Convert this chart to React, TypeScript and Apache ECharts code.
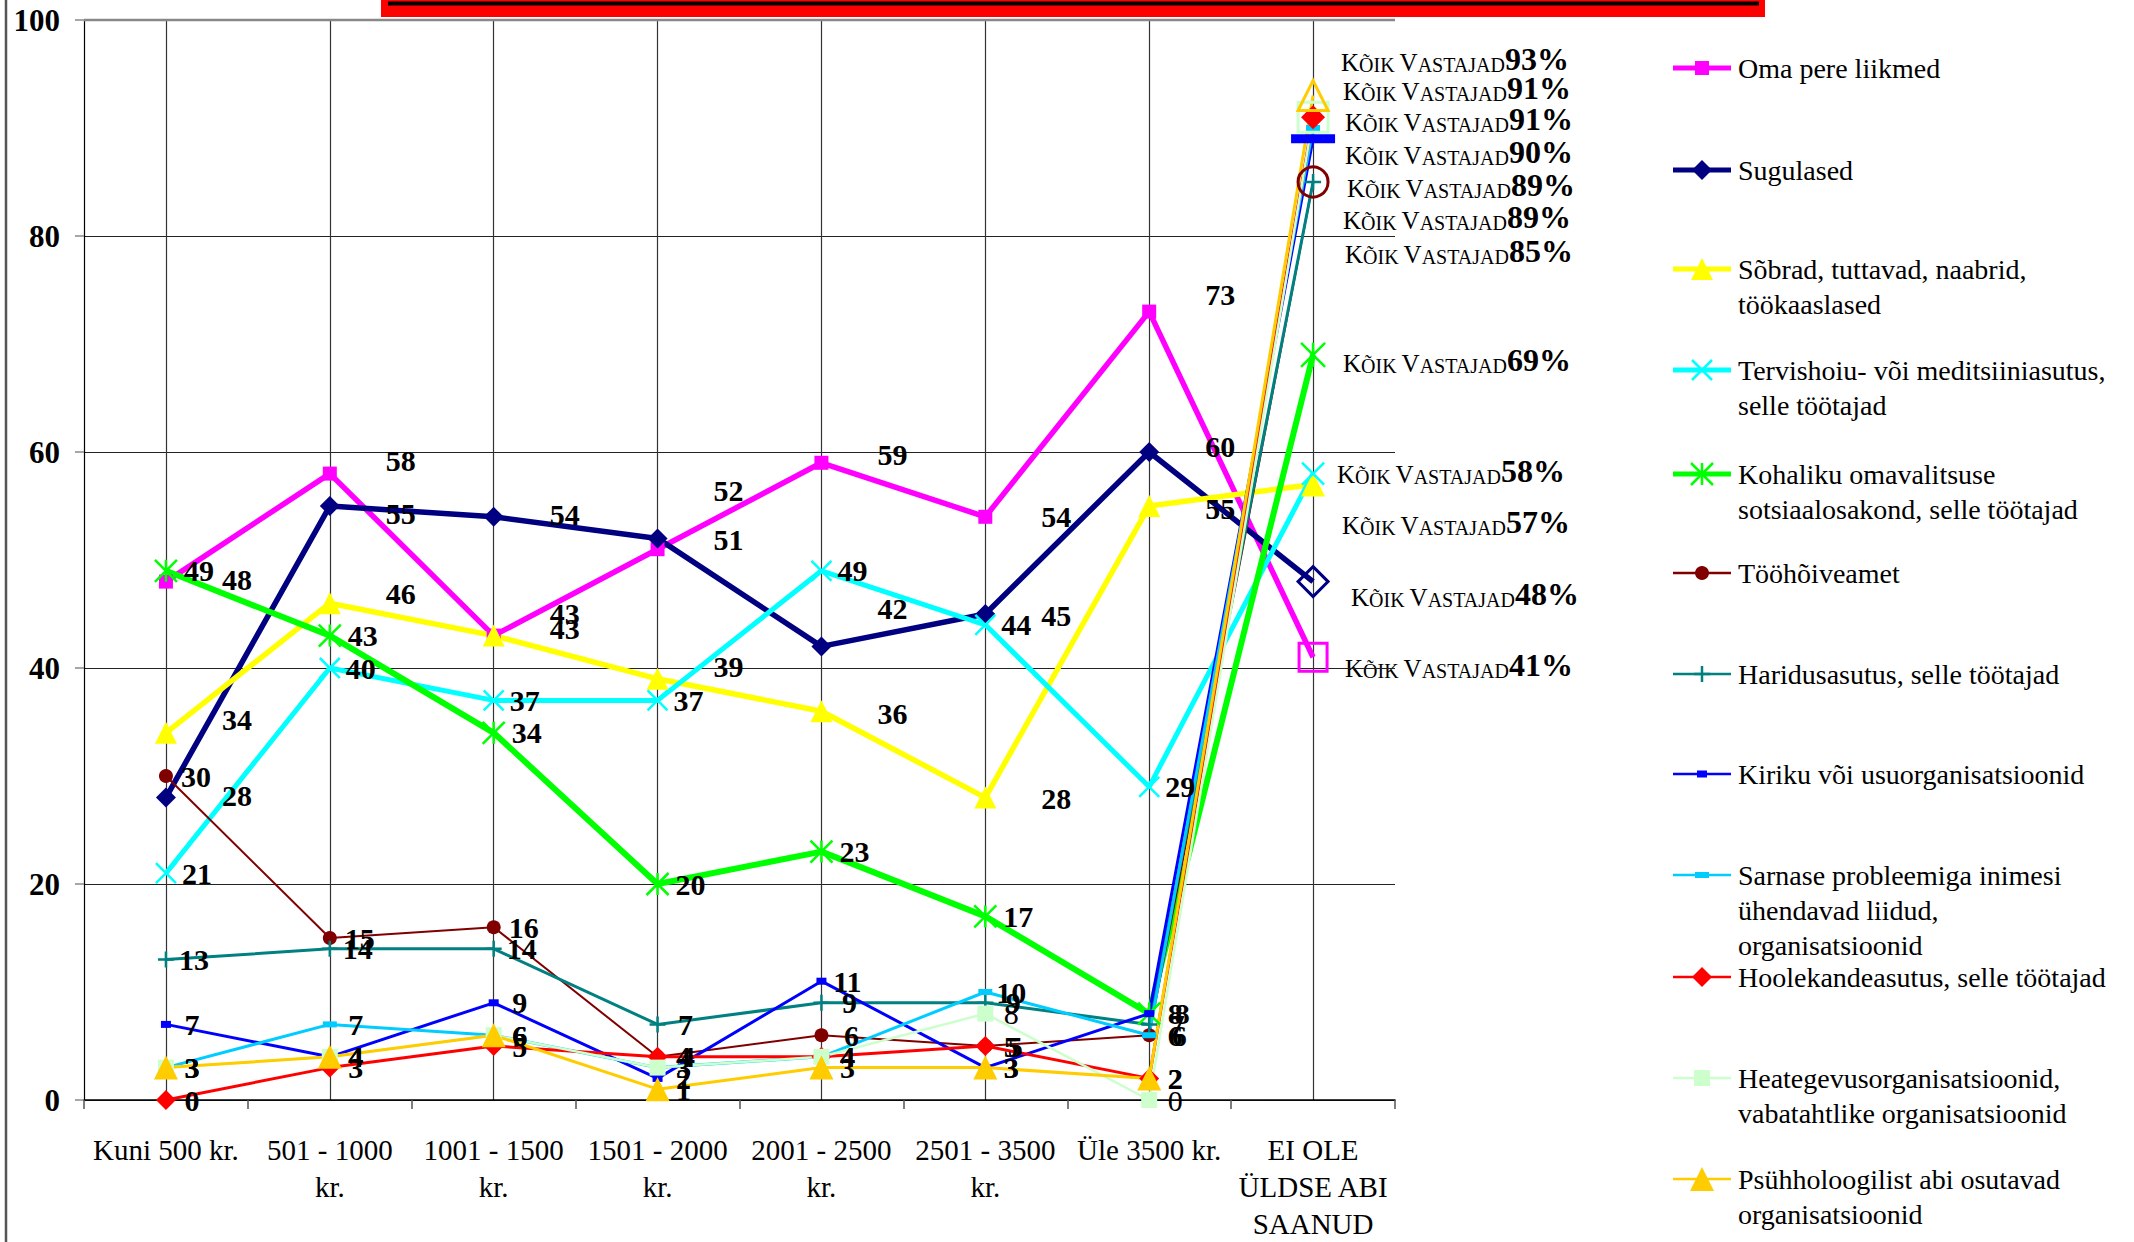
import React, { useEffect, useRef } from 'react';
import * as echarts from 'echarts';

const categories = [
  'Kuni 500 kr.',
  '501 - 1000\nkr.',
  '1001 - 1500\nkr.',
  '1501 - 2000\nkr.',
  '2001 - 2500\nkr.',
  '2501 - 3500\nkr.',
  'Üle 3500 kr.',
  'EI OLE\nÜLDSE ABI\nSAANUD',
];

const legendNames = [
  'Oma pere liikmed',
  'Sugulased',
  'Sõbrad, tuttavad, naabrid,\ntöökaaslased',
  'Tervishoiu- või meditsiiniasutus,\nselle töötajad',
  'Kohaliku omavalitsuse\nsotsiaalosakond, selle töötajad',
  'Tööhõiveamet',
  'Haridusasutus, selle töötajad',
  'Kiriku või usuorganisatsioonid',
  'Sarnase probleemiga inimesi\nühendavad liidud,\norganisatsioonid',
  'Hoolekandeasutus, selle töötajad',
  'Heategevusorganisatsioonid,\nvabatahtlike organisatsioonid',
  'Psühholoogilist abi osutavad\norganisatsioonid',
];

const omaPere = [48, 58, 43, 51, 59, 54, 73, 41];
const sugulased = [28, 55, 54, 52, 42, 45, 60, 48];
const sobrad = [34, 46, 43, 39, 36, 28, 55, 57];
const tervishoiu = [21, 40, 37, 37, 49, 44, 29, 58];
const kohaliku = [49, 43, 34, 20, 23, 17, 8, 69];
const toohoive = [30, 15, 16, 4, 6, 5, 6, 85];
const haridus = [13, 14, 14, 7, 9, 9, 7, 85];
const kiriku = [7, 4, 9, 2, 11, 3, 8, 89];
const sarnase = [3, 7, 6, 3, 4, 10, 6, 90];
const hoolekande = [0, 3, 5, 4, 4, 5, 2, 91];
const heategevus = [3, 4, 6, 3, 4, 8, 0, 91];
const psuhholoog = [3, 4, 6, 1, 3, 3, 2, 93];

const allRespondents = [93, 91, 91, 90, 89, 89, 85, 69, 58, 57, 48, 41];

const seriesValues = [
  omaPere, sugulased, sobrad, tervishoiu, kohaliku, toohoive,
  haridus, kiriku, sarnase, hoolekande, heategevus, psuhholoog,
];

// ---------- styling / layout ----------
const FONT = '"Liberation Serif", "Times New Roman", serif';
const X_PATH = 'path://M0,0L10,10M10,0L0,10';
const AST_PATH = 'path://M0,0L10,10M10,0L0,10M5,0L5,10';
const PLUS_PATH = 'path://M5,0L5,10M0,5L10,5';

type Kind = 'rect' | 'diamond' | 'triangle' | 'x' | 'ast' | 'circle' | 'plus';
interface Sty {
  color: string;
  width: number;
  kind: Kind;
  size: number | number[];
  last: { kind: Kind; size: number | number[]; hollow?: boolean };
  dx: number;
  dy?: number[];
  weight?: string;
  legendWidth: number;
}

const styles: Sty[] = [
  { color: '#FF00FF', width: 5.5, kind: 'rect', size: 14, last: { kind: 'rect', size: 28, hollow: true }, dx: 71, dy: [-2, -13, -22, -10, -8, 0, -17], legendWidth: 5 },
  { color: '#000080', width: 5.5, kind: 'diamond', size: 20, last: { kind: 'diamond', size: 30, hollow: true }, dx: 71, dy: [-2, 7, -2, -48, -38, 1, -6], legendWidth: 5 },
  { color: '#FFFF00', width: 5.5, kind: 'triangle', size: 22, last: { kind: 'triangle', size: 24 }, dx: 71, dy: [-13, -10, -7, -12, 2, 1, 2], legendWidth: 5 },
  { color: '#00FFFF', width: 5, kind: 'x', size: 20, last: { kind: 'x', size: 22 }, dx: 31, legendWidth: 5 },
  { color: '#00FF00', width: 6, kind: 'ast', size: 22, last: { kind: 'ast', size: 24 }, dx: 33, legendWidth: 5 },
  { color: '#800000', width: 2, kind: 'circle', size: 14, last: { kind: 'circle', size: 30, hollow: true }, dx: 30, legendWidth: 2.5 },
  { color: '#008080', width: 3, kind: 'plus', size: 16, last: { kind: 'plus', size: 16 }, dx: 28, legendWidth: 2.5 },
  { color: '#0000FF', width: 3, kind: 'rect', size: [10, 7], last: { kind: 'rect', size: [44, 9] }, dx: 26, legendWidth: 2.5 },
  { color: '#00CCFF', width: 3, kind: 'rect', size: [14, 6], last: { kind: 'rect', size: [14, 6] }, dx: 26, legendWidth: 2.5 },
  { color: '#FF0000', width: 3, kind: 'diamond', size: 20, last: { kind: 'diamond', size: 24 }, dx: 26, legendWidth: 2.5 },
  { color: '#CCFFCC', width: 2.5, kind: 'rect', size: 16, last: { kind: 'rect', size: 30, hollow: true }, dx: 26, weight: 'normal', legendWidth: 2.5 },
  { color: '#FFCC00', width: 3, kind: 'triangle', size: 24, last: { kind: 'triangle', size: 30, hollow: true }, dx: 26, legendWidth: 2.5 },
];

const symbolOf = (k: Kind) =>
  k === 'x' ? X_PATH : k === 'ast' ? AST_PATH : k === 'plus' ? PLUS_PATH : k;
const isStroke = (k: Kind) => k === 'x' || k === 'ast' || k === 'plus';

// legend layout
const LEG_Y = [68, 170, 269, 370, 474, 573, 674, 774, 875, 977, 1078, 1179];
const LEG_X0 = 1673;
const LEG_X1 = 1731;
const LEG_TX = 1738;

// annotation layout
const ANN_Y = [58, 87, 118, 151, 184, 216, 250, 359, 470, 521, 593, 664];
const ANN_X = [1341, 1343, 1345, 1345, 1347, 1343, 1345, 1343, 1337, 1342, 1351, 1345];

function legendSymbol(k: Kind, cx: number, cy: number, color: string, size: number | number[]): any[] {
  const w = Array.isArray(size) ? size[0] : size;
  const h = Array.isArray(size) ? size[1] : size;
  const s = w;
  switch (k) {
    case 'rect':
      return [{ type: 'rect', shape: { x: cx - w / 2, y: cy - h / 2, width: w, height: h }, style: { fill: color } }];
    case 'diamond':
      return [{ type: 'polygon', shape: { points: [[cx, cy - s / 2], [cx + s / 2, cy], [cx, cy + s / 2], [cx - s / 2, cy]] }, style: { fill: color } }];
    case 'triangle':
      return [{ type: 'polygon', shape: { points: [[cx, cy - s / 2], [cx + s / 2, cy + s / 2], [cx - s / 2, cy + s / 2]] }, style: { fill: color } }];
    case 'circle':
      return [{ type: 'circle', shape: { cx, cy, r: s / 2 }, style: { fill: color } }];
    case 'x':
    case 'ast':
    case 'plus': {
      const r = s / 2;
      const segs: number[][] = [];
      if (k !== 'plus') {
        segs.push([cx - r, cy - r, cx + r, cy + r], [cx + r, cy - r, cx - r, cy + r]);
      }
      if (k === 'ast' || k === 'plus') segs.push([cx, cy - r, cx, cy + r]);
      if (k === 'plus') segs.push([cx - r, cy, cx + r, cy]);
      return segs.map((g) => ({
        type: 'line',
        shape: { x1: g[0], y1: g[1], x2: g[2], y2: g[3] },
        style: { stroke: color, lineWidth: 2.5 },
      }));
    }
  }
  return [];
}

export default function App() {
  const ref = useRef<HTMLDivElement>(null);

  useEffect(() => {
    document.body.style.margin = '0';
    if (!ref.current) return;
    const chart = echarts.init(ref.current, undefined, { renderer: 'svg' });

    const series: any[] = seriesValues.map((vals, si) => {
      const st = styles[si];
      const lastIdx = vals.length - 1;
      const data = vals.map((v, i) => {
        if (i === lastIdx) {
          const hollow = st.last.hollow;
          return {
            value: v,
            symbol: symbolOf(st.last.kind),
            symbolSize: st.last.size,
            itemStyle: hollow
              ? { color: 'rgba(255,255,255,0)', borderColor: st.color, borderWidth: 3 }
              : { color: st.color, borderColor: st.color, borderWidth: isStroke(st.last.kind) ? 2.5 : 0 },
            label: { show: false },
          };
        }
        return { value: v, label: { offset: [st.dx, st.dy ? st.dy[i] : 0] } };
      });
      return {
        type: 'line',
        name: legendNames[si].replace(/\n/g, ' '),
        xAxisIndex: 0,
        yAxisIndex: 0,
        data,
        symbol: symbolOf(st.kind),
        symbolSize: st.size,
        showAllSymbol: true,
        lineStyle: { color: st.color, width: st.width },
        itemStyle: { color: st.color, borderColor: st.color, borderWidth: isStroke(st.kind) ? 2.5 : 0 },
        label: {
          show: true,
          position: 'inside',
          offset: [st.dx, 0],
          fontFamily: FONT,
          fontWeight: st.weight || 'bold',
          fontSize: 30,
          color: '#000',
          formatter: '{c}',
        },
        emphasis: { disabled: true },
        silent: true,
        z: 2,
      };
    });

    const graphics: any[] = [];
    // chart area left border
    graphics.push({ type: 'line', shape: { x1: 6, y1: 0, x2: 6, y2: 1242 }, style: { stroke: '#555', lineWidth: 2.5 }, z: 10 });
    // top plot border
    graphics.push({ type: 'line', shape: { x1: 84, y1: 20, x2: 1395, y2: 20 }, style: { stroke: '#888', lineWidth: 2.5 }, z: 1 });
    // red title bar (clipped)
    graphics.push({ type: 'rect', shape: { x: 381, y: 0, width: 1384, height: 17 }, style: { fill: '#FF0000' }, z: 10 });
    graphics.push({ type: 'rect', shape: { x: 388, y: 1.5, width: 1371, height: 4 }, style: { fill: '#000' }, z: 11 });

    // legend
    legendNames.forEach((name, i) => {
      const st = styles[i];
      const y = LEG_Y[i];
      graphics.push({ type: 'line', shape: { x1: LEG_X0, y1: y, x2: LEG_X1, y2: y }, style: { stroke: st.color, lineWidth: st.legendWidth } });
      legendSymbol(st.kind, (LEG_X0 + LEG_X1) / 2, y, st.color, st.size).forEach((g) => graphics.push(g));
      graphics.push({
        type: 'text',
        x: LEG_TX,
        y: y - 17.5,
        style: {
          text: name,
          fontFamily: FONT,
          fontSize: 28,
          lineHeight: 35,
          fill: '#000',
          align: 'left',
          verticalAlign: 'top',
        },
      });
    });

    // "KÕIK VASTAJAD" annotations
    allRespondents.forEach((v, i) => {
      graphics.push({
        type: 'text',
        x: ANN_X[i],
        y: ANN_Y[i],
        style: {
          text: `{b|K}{s|ÕIK }{b|V}{s|ASTAJAD}{p|${v}%}`,
          align: 'left',
          verticalAlign: 'middle',
          rich: {
            b: { fontSize: 25, fontFamily: FONT, fill: '#000', lineHeight: 34, verticalAlign: 'bottom' },
            s: { fontSize: 20, fontFamily: FONT, fill: '#000', lineHeight: 34, verticalAlign: 'bottom' },
            p: { fontSize: 32, fontFamily: FONT, fontWeight: 'bold', fill: '#000', lineHeight: 34, verticalAlign: 'bottom' },
          },
        },
      });
    });

    chart.setOption({
      animation: false,
      backgroundColor: '#fff',
      grid: { left: 84, top: 20, width: 1311, height: 1091, containLabel: false },
      xAxis: [
        {
          type: 'category',
          data: categories,
          boundaryGap: true,
          axisLine: { show: true, lineStyle: { color: '#000', width: 1.5 } },
          axisTick: { show: true, length: 9, lineStyle: { color: '#555', width: 1.5 } },
          splitLine: { show: false },
          axisLabel: {
            interval: 0,
            fontFamily: FONT,
            fontSize: 29,
            lineHeight: 37,
            color: '#000',
            margin: 31,
          },
        },
        {
          type: 'value',
          min: 0,
          max: 16,
          interval: 1,
          position: 'top',
          axisLine: { show: false },
          axisTick: { show: false },
          axisLabel: { show: false },
          splitLine: { show: true, lineStyle: { color: ['rgba(0,0,0,0)', '#333'], width: 1.2 } },
        },
      ],
      yAxis: {
        type: 'value',
        min: 0,
        max: 100,
        interval: 20,
        axisLine: { show: true, lineStyle: { color: '#000', width: 1.2 } },
        axisTick: { show: true, length: 9, lineStyle: { color: '#888', width: 1.5 } },
        splitLine: { show: true, lineStyle: { color: '#222', width: 1.2 } },
        axisLabel: {
          fontFamily: FONT,
          fontWeight: 'bold',
          fontSize: 31,
          color: '#000',
          margin: 24,
        },
      },
      series,
      graphic: { elements: graphics },
    });

    return () => {
      chart.dispose();
    };
  }, []);

  return <div ref={ref} style={{ width: 2134, height: 1242, background: '#fff' }} />;
}
